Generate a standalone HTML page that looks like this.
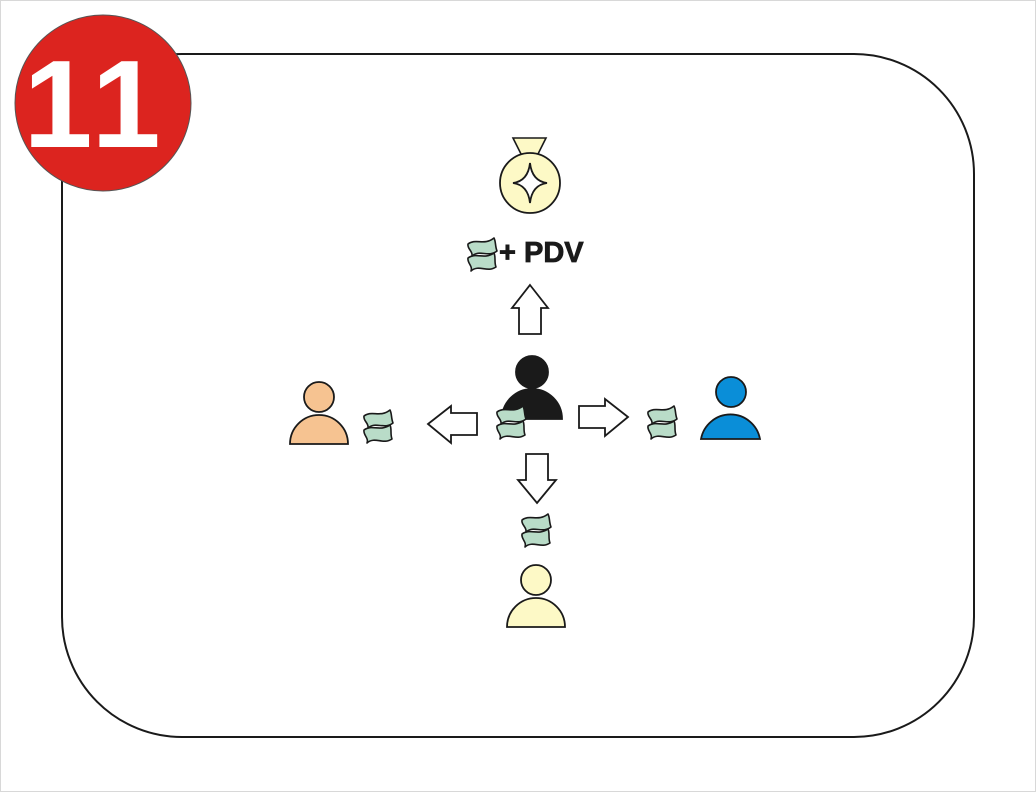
<!DOCTYPE html>
<html><head><meta charset="utf-8"><style>
html,body{margin:0;padding:0;background:#fff}
svg{display:block}
</style></head><body>
<svg width="1036" height="792" viewBox="0 0 1036 792" xmlns="http://www.w3.org/2000/svg">
<defs>
<g id="m">
<path d="M3,8 C11,2 19,10 29,2 C31,6 30,10 32,15 C23,22 15,13 7,20 C8,15 2,13 3,8 Z" fill="#b9dcc8" stroke="#1a1a1a" stroke-width="1.6" stroke-linejoin="round"/>
<path d="M3,22 C11,16 19,24 29,17 C31,21 29,26 31,31 C22,37 14,28 6,35 C8,30 2,27 3,22 Z" fill="#b9dcc8" stroke="#1a1a1a" stroke-width="1.6" stroke-linejoin="round"/>
</g>
</defs>
<rect x="0.5" y="0.5" width="1035" height="791" fill="#fff" stroke="#d8d8d8"/>
<rect x="62" y="54" width="912" height="683" rx="120" ry="120" fill="#fff" stroke="#1a1a1a" stroke-width="2"/>
<circle cx="103" cy="103" r="88" fill="#dc241f" stroke="#555" stroke-width="1"/>
<text x="95" y="147" text-anchor="middle" font-family="Liberation Sans, sans-serif" font-weight="bold" font-size="124" fill="#fff" letter-spacing="6">11</text>
<!-- medal -->
<path d="M513,138 L546,138 L537,156 L522,156 Z" fill="#fdf9c6" stroke="#1a1a1a" stroke-width="1.6"/>
<circle cx="530" cy="183" r="30" fill="#fdf9c6" stroke="#1a1a1a" stroke-width="1.8"/>
<path d="M530,163 Q532,181 547,183 Q532,185 530,203 Q528,185 513,183 Q528,181 530,163 Z" fill="#fff" stroke="#1a1a1a" stroke-width="1.8"/>
<use href="#m" x="465" y="236"/>
<text x="499" y="262" font-family="Liberation Sans, sans-serif" font-weight="bold" font-size="29" fill="#1a1a1a" stroke="#1a1a1a" stroke-width="0.8">+ PDV</text>
<!-- arrows -->
<g fill="#fff" stroke="#1a1a1a" stroke-width="1.8" stroke-linejoin="miter">
<path d="M530,285 L548,308 L541,308 L541,334 L519,334 L519,308 L512,308 Z"/>
<path d="M628,417 L605,399 L605,406 L579,406 L579,428 L605,428 L605,436 Z"/>
<path d="M428,424 L451,406 L451,413 L477,413 L477,435 L451,435 L451,443 Z"/>
<path d="M537,503 L556,480 L548,480 L548,454 L526,454 L526,480 L518,480 Z"/>
</g>
<!-- people -->
<g stroke="#1a1a1a" stroke-width="1.8">
<circle cx="532" cy="372" r="16" fill="#1a1a1a"/>
<path d="M502,419 A30,30 0 0 1 562,419 Z" fill="#1a1a1a"/>
<circle cx="731" cy="392" r="15" fill="#0a8ed8"/>
<path d="M701,439 A30,30 0 0 1 760,439 Z" fill="#0a8ed8"/>
<circle cx="319" cy="397" r="15" fill="#f6c391"/>
<path d="M290,444 A29,29 0 0 1 348,444 Z" fill="#f6c391"/>
<circle cx="536" cy="580" r="15" fill="#fdf9c6"/>
<path d="M507,627 A29,29 0 0 1 565,627 Z" fill="#fdf9c6"/>
</g>
<use href="#m" x="494" y="404"/>
<use href="#m" x="645" y="404"/>
<use href="#m" x="361" y="408"/>
<use href="#m" x="519" y="512"/>
</svg>
</body></html>
